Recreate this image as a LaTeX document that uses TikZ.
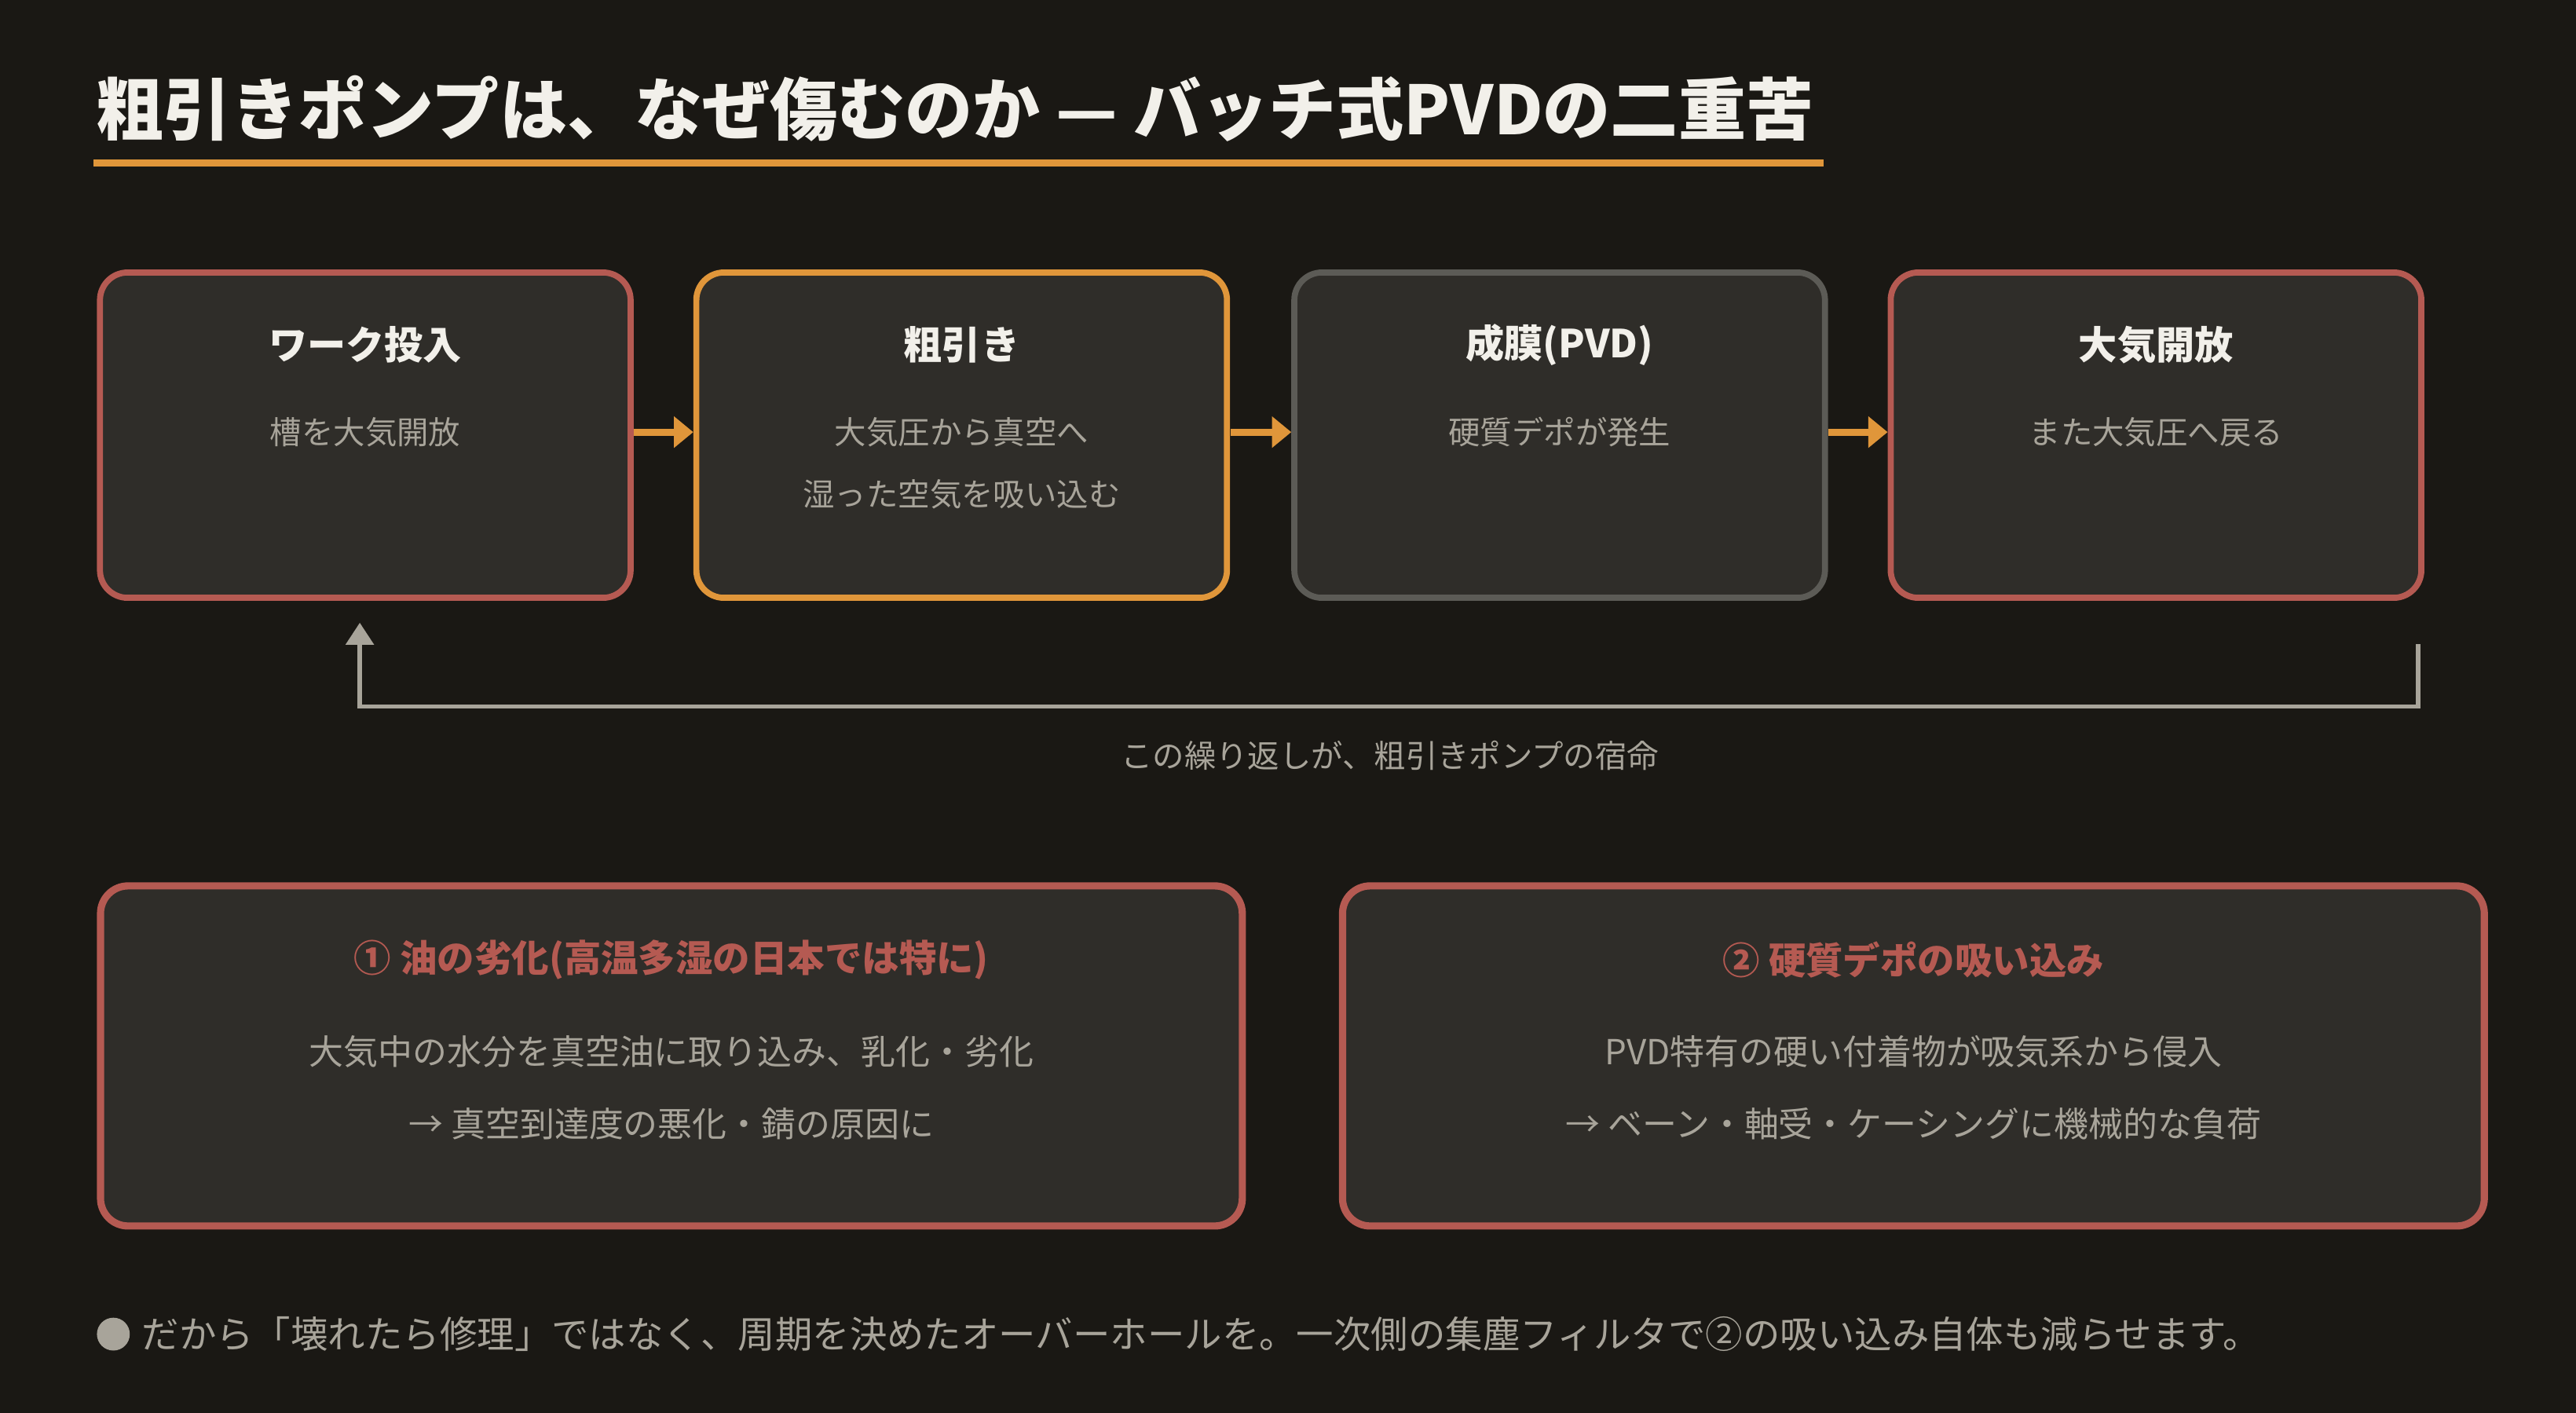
\documentclass[tikz,border=0pt]{standalone}
\usepackage{fontspec}
\setmainfont{Noto Sans CJK JP}
\usetikzlibrary{arrows.meta}
\definecolor{bg}{HTML}{1A1814}
\definecolor{boxf}{HTML}{2F2D29}
\definecolor{redc}{HTML}{B55A52}
\definecolor{orc}{HTML}{E0963A}
\definecolor{grayb}{HTML}{5C5B56}
\definecolor{txtg}{HTML}{A8A49A}
\definecolor{txtw}{HTML}{F2F0EA}
\begin{document}
\begin{tikzpicture}[x=0.020918cm,y=-0.020918cm,
  box/.style={draw,line width=2.2pt,fill=boxf,rounded corners=10pt,minimum width=323*0.020918cm,minimum height=198*0.020918cm,anchor=north west},
  bbox/.style={draw=redc,line width=2.6pt,fill=boxf,rounded corners=10pt,minimum width=695*0.020918cm,minimum height=207*0.020918cm,anchor=north west},
  ttl/.style={text=txtw,font=\bfseries\fontsize{14}{16}\selectfont},
  sub/.style={text=txtg,font=\fontsize{11.5}{14}\selectfont},
  btl/.style={text=redc,font=\bfseries\fontsize{13.5}{16}\selectfont},
  flow/.style={orc,line width=2.6pt,-{Triangle[length=7pt,width=11pt]}}]
\fill[bg] (0,0) rectangle (1568,860);
\useasboundingbox (0,0) rectangle (1568,860);
\node[anchor=west,text=txtw,font=\bfseries\fontsize{24.5}{28}\selectfont,inner sep=0] (title) at (58,66) {粗引きポンプは、なぜ傷むのか — バッチ式PVDの二重苦};
\draw[orc,line width=2.6pt] (57,99) -- (1110,99);
\node[box,draw=redc] (b1) at (59,164) {};
\node[box,draw=orc] (b2) at (422,164) {};
\node[box,draw=grayb] (b3) at (786,164) {};
\node[box,draw=redc] (b4) at (1149,164) {};
\foreach \b/\t/\s in {b1/ワーク投入/槽を大気開放, b2/粗引き/大気圧から真空へ, b3/成膜(PVD)/硬質デポが発生, b4/大気開放/また大気圧へ戻る}{
  \node[ttl] at ([yshift=-46*0.020918cm]\b.north) {\t};
  \node[sub] at ([yshift=-99*0.020918cm]\b.north) {\s};
}
\node[sub] at ([yshift=-137*0.020918cm]b2.north) {湿った空気を吸い込む};
\draw[flow] (386,263) -- (b2.west |- 0,263);
\draw[flow] (749,263) -- (b3.west |- 0,263);
\draw[flow] (1113,263) -- (b4.west |- 0,263);
\coordinate (lp) at (1472,392);
\coordinate (la) at (219,379);
\draw[txtg,line width=1.6pt,-{Triangle[length=8pt,width=10pt]}] (lp) -- (1472,430) -- (219,430) -- (la);
\node[sub] (loop) at (846,460) {この繰り返しが、粗引きポンプの宿命};
\node[bbox] (c1) at (59,537) {};
\node[bbox] (c2) at (815,537) {};
\node[btl] at ([yshift=-47*0.020918cm]c1.north) {① 油の劣化(高温多湿の日本では特に)};
\node[sub,font=\fontsize{12.5}{15}\selectfont] at ([yshift=-103*0.020918cm]c1.north) {大気中の水分を真空油に取り込み、乳化・劣化};
\node[sub,font=\fontsize{12.5}{15}\selectfont] at ([yshift=-147*0.020918cm]c1.north) {→ 真空到達度の悪化・錆の原因に};
\node[btl] at ([yshift=-47*0.020918cm]c2.north) {② 硬質デポの吸い込み};
\node[sub,font=\fontsize{12.5}{15}\selectfont] at ([yshift=-103*0.020918cm]c2.north) {PVD特有の硬い付着物が吸気系から侵入};
\node[sub,font=\fontsize{12.5}{15}\selectfont] at ([yshift=-147*0.020918cm]c2.north) {→ ベーン・軸受・ケーシングに機械的な負荷};
\fill[txtg] (69,812) circle (10);
\node[anchor=west,text=txtg,font=\fontsize{13.5}{16}\selectfont,inner sep=0] (foot) at (86,812) {だから「壊れたら修理」ではなく、周期を決めたオーバーホールを。一次側の集塵フィルタで②の吸い込み自体も減らせます。};
\end{tikzpicture}
\end{document}
